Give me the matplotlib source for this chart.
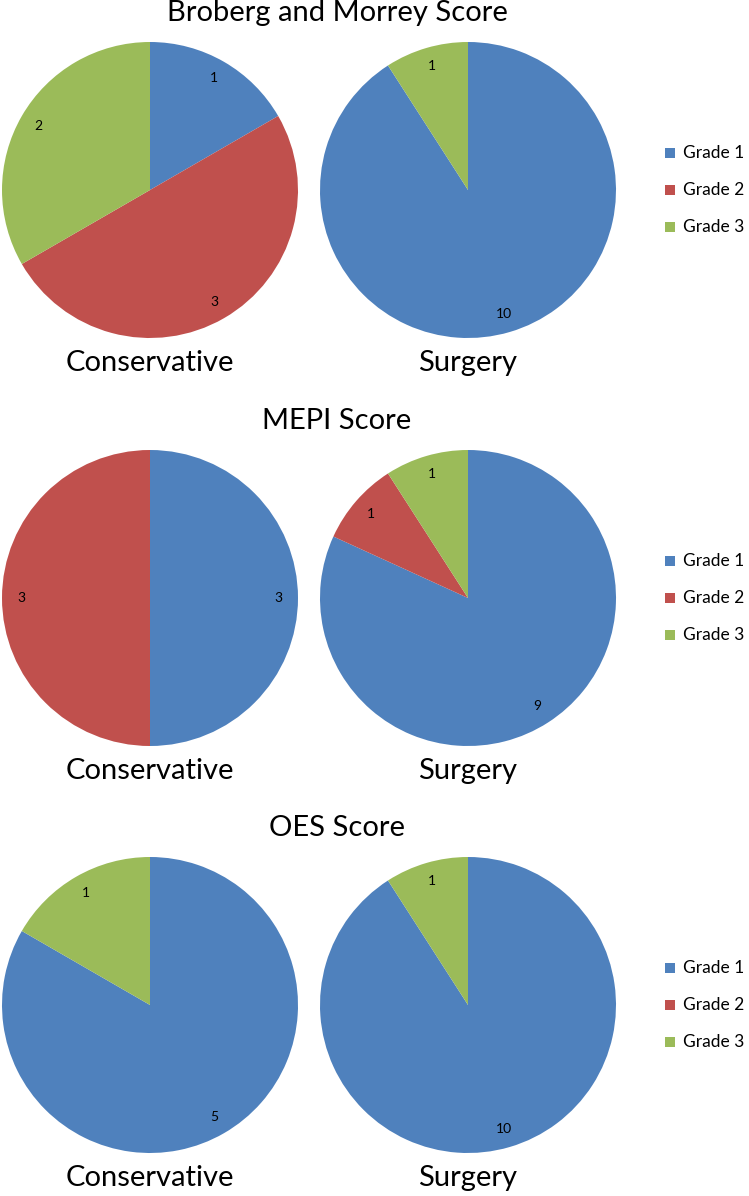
import matplotlib
matplotlib.use("Agg")
import matplotlib.pyplot as plt
from matplotlib.patches import Rectangle

# ---------- data ----------
grades = ["Grade 1", "Grade 2", "Grade 3"]
groups = ["Conservative", "Surgery"]
scores = ["Broberg and Morrey Score", "MEPI Score", "OES Score"]

broberg_conservative = [1, 3, 2]
broberg_surgery = [10, 0, 1]
mepi_conservative = [3, 3, 0]
mepi_surgery = [9, 1, 1]
oes_conservative = [5, 0, 1]
oes_surgery = [10, 0, 1]

colors = ["#4F81BD", "#C0504D", "#9BBB59"]

# ---------- layout (pixels) ----------
W, H = 749, 1196
PIE_R = 148
PIE_X = [150, 468]
ROW_Y = [190, 598, 1005]
TITLE_X = 337
LEG_SQ_X = 665
LEG_TXT_X = 683
FONT = ["Lato", "DejaVu Sans"]
BIG = 21


def fx(x):
    return x / W


def fy(y):
    return 1 - y / H


def count_label(values):
    total = sum(values)

    def fmt(pct):
        n = round(pct * total / 100.0)
        return str(n) if n > 0 else ""

    return fmt


fig = plt.figure(figsize=(W / 100, H / 100), dpi=100)
fig.patch.set_facecolor("white")

rows = [
    (broberg_conservative, broberg_surgery),
    (mepi_conservative, mepi_surgery),
    (oes_conservative, oes_surgery),
]

for title, cy, pair in zip(scores, ROW_Y, rows):
    fig.text(fx(TITLE_X), fy(cy - 177), title, ha="center", va="center",
             fontsize=BIG, family=FONT)
    for cx, group, values in zip(PIE_X, groups, pair):
        ax = fig.add_axes([fx(cx - PIE_R), fy(cy + PIE_R),
                           2 * PIE_R / W, 2 * PIE_R / H])
        ax.pie(values, colors=colors, startangle=90, counterclock=False,
               radius=1.0, autopct=count_label(values), pctdistance=0.87,
               textprops={"fontsize": 10, "family": FONT, "color": "black"},
               wedgeprops={"linewidth": 0})
        ax.set_xlim(-1, 1)
        ax.set_ylim(-1, 1)
        ax.set_aspect("equal")
        ax.axis("off")
        fig.text(fx(cx), fy(cy + 173), group, ha="center", va="center",
                 fontsize=BIG, family=FONT)

    # legend
    for i, (grade, color) in enumerate(zip(grades, colors)):
        ly = cy - 37 + i * 37
        fig.patches.append(Rectangle((fx(LEG_SQ_X), fy(ly + 5)), 10 / W, 10 / H,
                                     transform=fig.transFigure, facecolor=color,
                                     edgecolor="none"))
        fig.text(fx(LEG_TXT_X), fy(ly), grade, ha="left", va="center",
                 fontsize=12.5, family=FONT)

fig.savefig("out.png", dpi=100)
